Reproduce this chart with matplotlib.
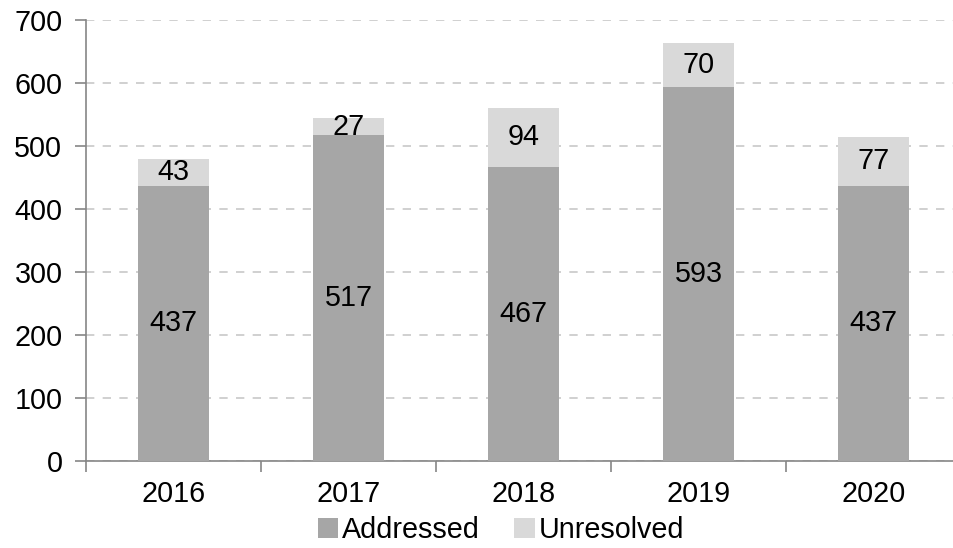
import matplotlib
matplotlib.use("Agg")
import matplotlib.pyplot as plt
import numpy as np

years = ["2016", "2017", "2018", "2019", "2020"]
addressed = [437, 517, 467, 593, 437]
unresolved = [43, 27, 94, 70, 77]

plt.rcParams['font.family'] = ['Liberation Sans', 'DejaVu Sans']

fig = plt.figure(figsize=(9.54, 5.48), dpi=100)
ax = fig.add_axes([86/954, 87/548, 875/954, 441/548])

x = np.arange(len(years))
w = 0.41
c_add = "#A6A6A6"
c_unr = "#D9D9D9"
b1 = ax.bar(x, addressed, w, color=c_add, label="Addressed", zorder=3)
b2 = ax.bar(x, unresolved, w, bottom=addressed, color=c_unr, label="Unresolved", zorder=3)

fs = 20.7
for xi, a, u in zip(x, addressed, unresolved):
    ax.text(xi, a / 2, str(a), ha="center", va="center", fontsize=fs, color="black", zorder=4)
    ax.text(xi, a + u / 2, str(u), ha="center", va="center", fontsize=fs, color="black", zorder=4)

ax.set_xlim(-0.5, 4.5)
ax.set_ylim(0, 700)
ax.set_yticks(range(0, 701, 100))
ax.set_xticks(x)
ax.set_xticklabels(years)
ax.set_xticks(np.arange(-0.5, 5.0, 1.0), minor=True)
ax.tick_params(axis="x", which="major", length=0, pad=14, labelsize=fs)
ax.tick_params(axis="x", which="minor", length=8, color="#868686", width=1.2)
ax.tick_params(axis="y", length=8, color="#868686", width=1.2, labelsize=fs, pad=9)

ax.yaxis.grid(True, linestyle=(0, (5, 5)), color="#C8C8C8", linewidth=1.2, zorder=0)
for s in ["top", "right"]:
    ax.spines[s].set_visible(False)
for s in ["left", "bottom"]:
    ax.spines[s].set_color("#868686")
    ax.spines[s].set_linewidth(1.2)

fig.legend(handles=[b1, b2], loc="center", bbox_to_anchor=(501/954, 1 - 530/548),
           ncol=2, frameon=False, fontsize=fs, handlelength=0.7, handleheight=0.7,
           handletextpad=0.15, columnspacing=1.2, borderpad=0)

fig.savefig("out.png", dpi=100)
